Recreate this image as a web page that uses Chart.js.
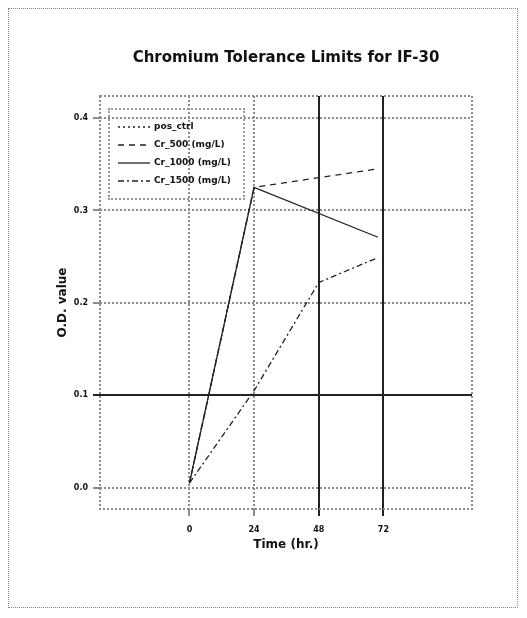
<!DOCTYPE html>
<html>
<head>
<meta charset="utf-8">
<script src="https://cdn.jsdelivr.net/npm/chart.js@4.4.1/dist/chart.umd.min.js"></script>
<style>
    html, body { margin: 0; padding: 0; background: #fff; }
    #wrap { position: relative; width: 527px; height: 618px; }
    #frame { position: absolute; left: 8px; top: 8px; width: 508px; height: 598px; border: 1px dotted #888; }
    canvas { position: absolute; left: 0; top: 0; }
    #legend {
        position: absolute; left: 108px; top: 108px; width: 137px; height: 92px;
        border: 2px dotted #999; box-sizing: border-box;
        font: bold 9px "DejaVu Sans", sans-serif; color: #111;
    }
    #legend .item { position: absolute; left: 8px; height: 12px; line-height: 12px; white-space: nowrap; }
    #legend svg { vertical-align: middle; margin-right: 4px; }
</style>
</head>
<body>
<div id="wrap">
    <div id="frame"></div>
    <canvas id="chart" width="527" height="618"></canvas>
    <div id="legend"></div>
</div>
<script>
const seriesNames = ['pos_ctrl', 'Cr_500 (mg/L)', 'Cr_1000 (mg/L)', 'Cr_1500 (mg/L)'];
const posCtrlTimes = [0, 24];
const posCtrlValues = [0.005, 0.325];
const cr500Times = [0, 24, 70];
const cr500Values = [0.005, 0.325, 0.345];
const cr1000Times = [0, 24, 70];
const cr1000Values = [0.005, 0.325, 0.271];
const cr1500Times = [0, 24, 48, 70];
const cr1500Values = [0.005, 0.105, 0.222, 0.249];
const xTicks = [0, 24, 48, 72];
const yTicks = [0.0, 0.1, 0.2, 0.3, 0.4];

const dashes = [[2, 3], [6, 5], [], [6, 3, 2, 3]];

function toPoints(xs, ys) {
    return xs.map(function (x, i) { return { x: x, y: ys[i] }; });
}

const datasets = [
    toPoints(posCtrlTimes, posCtrlValues),
    toPoints(cr500Times, cr500Values),
    toPoints(cr1000Times, cr1000Values),
    toPoints(cr1500Times, cr1500Values)
].map(function (pts, i) {
    return {
        label: seriesNames[i],
        data: pts,
        borderColor: '#222',
        borderWidth: 1.3,
        borderDash: dashes[i],
        pointRadius: 0,
        fill: false,
        tension: 0
    };
});

// html legend
const legendEl = document.getElementById('legend');
seriesNames.forEach(function (name, i) {
    const row = document.createElement('div');
    row.className = 'item';
    row.style.top = (10 + i * 18) + 'px';
    row.innerHTML = '<svg width="32" height="4"><line x1="0" y1="2" x2="32" y2="2" stroke="#222" stroke-width="1.3" stroke-dasharray="' +
        (dashes[i].length ? dashes[i].join(',') : 'none') + '"/></svg>';
    row.appendChild(document.createTextNode(name));
    legendEl.appendChild(row);
});

const dotted = [2, 2];
const gridGrey = '#8c8c8c';

const frame = {
    id: 'frame',
    beforeDatasetsDraw(chart) {
        const a = chart.chartArea;
        const ctx = chart.ctx;
        ctx.save();
        ctx.strokeStyle = gridGrey;
        ctx.lineWidth = 2;
        ctx.setLineDash(dotted);
        ctx.strokeRect(a.left, a.top, a.right - a.left, a.bottom - a.top);
        ctx.restore();
    }
};

const fam = '"DejaVu Sans", sans-serif';
const tickFont = { family: fam, size: 8, weight: 'bold' };
const axisTitleFont = { family: fam, size: 12, weight: 'bold' };

new Chart(document.getElementById('chart'), {
    type: 'line',
    data: { datasets: datasets },
    options: {
        responsive: false,
        animation: false,
        layout: { padding: { left: 50, right: 55, top: 45, bottom: 63 } },
        plugins: {
            legend: { display: false },
            tooltip: { enabled: false },
            title: {
                display: true,
                text: 'Chromium Tolerance Limits for IF-30',
                fullSize: false,
                color: '#111',
                font: { family: fam, size: 15, weight: 'bold' },
                padding: { top: 4, bottom: 29 }
            }
        },
        scales: {
            x: {
                type: 'linear',
                min: -33.2,
                max: 104.9,
                afterBuildTicks: function (scale) {
                    scale.ticks = xTicks.map(function (v) { return { value: v }; });
                },
                afterFit: function (scale) { scale.height = 46; },
                ticks: { color: '#111', font: tickFont, padding: 9, maxRotation: 0, autoSkip: false },
                grid: {
                    color: function (ctx) { return ctx.tick && ctx.tick.value >= 48 ? '#222' : gridGrey; },
                    lineWidth: 2,
                    tickLength: 7
                },
                border: {
                    display: false,
                    dash: function (ctx) { return ctx.tick && ctx.tick.value >= 48 ? [] : dotted; }
                },
                title: {
                    display: true,
                    text: 'Time (hr.)',
                    color: '#111',
                    font: axisTitleFont,
                    padding: { top: 0, bottom: 3 }
                }
            },
            y: {
                min: -0.023,
                max: 0.4238,
                afterBuildTicks: function (scale) {
                    scale.ticks = yTicks.map(function (v) { return { value: v }; });
                },
                afterFit: function (scale) { scale.width = 50; },
                ticks: {
                    color: '#111', font: tickFont, padding: 5,
                    callback: function (v) { return v.toFixed(1); }
                },
                grid: {
                    color: function (ctx) { return ctx.tick && Math.abs(ctx.tick.value - 0.1) < 1e-6 ? '#222' : gridGrey; },
                    lineWidth: 2,
                    tickLength: 7
                },
                border: {
                    display: false,
                    dash: function (ctx) { return ctx.tick && Math.abs(ctx.tick.value - 0.1) < 1e-6 ? [] : dotted; }
                },
                title: {
                    display: true,
                    text: 'O.D. value',
                    color: '#111',
                    font: axisTitleFont,
                    padding: { top: 6, bottom: 0 }
                }
            }
        }
    },
    plugins: [frame]
});
</script>
</body>
</html>
